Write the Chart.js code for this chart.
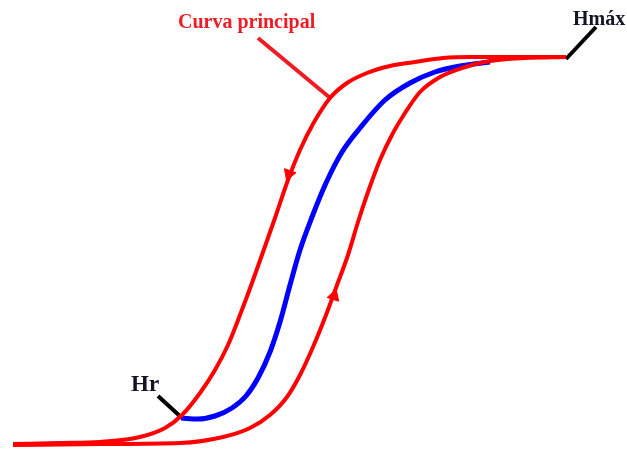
<!DOCTYPE html>
<html lang="es">
<head>
  <meta charset="UTF-8">
  <title>Curva principal</title>
  <script src="https://cdn.jsdelivr.net/npm/chart.js"></script>
  <style>
    html, body { margin: 0; padding: 0; background: #fff; }
    #wrap { width: 627px; height: 449px; }
  </style>
</head>
<body>
  <div id="wrap"><canvas id="loopChart" width="627" height="449"></canvas></div>
  <script>
    // puntos (x, y en unidades de la imagen, y hacia abajo)
    const upperBranch = [
      [13, 444], [60, 443], [100, 442], [140, 437], [165, 428], [182, 415],
      [200, 393], [215, 370], [228, 345], [240, 315], [252, 283], [263, 252],
      [275, 218], [288, 180], [300, 150], [313, 124], [330, 98], [347, 83],
      [367, 73], [390, 66], [415, 62], [443, 58], [470, 57], [566, 57]
    ];
    const lowerBranch = [
      [13, 445], [100, 444], [180, 443], [223, 437], [250, 428], [270, 415],
      [287, 397], [300, 375], [313, 347], [326, 315], [337, 285], [348, 255],
      [358, 222], [368, 192], [380, 160], [393, 133], [405, 113], [420, 92],
      [440, 77], [462, 68], [490, 61], [525, 58], [566, 57]
    ];
    const innerCurve = [
      [181, 418], [198, 419], [215, 416], [232, 408], [246, 396], [258, 378],
      [270, 352], [280, 322], [290, 285], [300, 250], [312, 217], [326, 183],
      [342, 152], [360, 128], [385, 100], [410, 83], [435, 72], [460, 66], [490, 62]
    ];
    // flechas: [x, y, giro en grados]
    const arrowHeads = [
      [289, 174, 200],
      [334, 296, 18]
    ];
    const leaderPrincipal = [[258, 38], [329, 97]];
    const leaderHmax = [[596, 27], [566, 59]];
    const leaderHr = [[158, 396], [182, 418]];
    const labels = [
      { text: 'Curva principal', x: 178, y: 28, color: '#ee1c24', size: 20 },
      { text: 'Hmáx', x: 573, y: 25, color: '#141428', size: 20 },
      { text: 'Hr', x: 131, y: 391, color: '#141428', size: 23 }
    ];

    const toXY = arr => arr.map(p => ({ x: p[0], y: p[1] }));

    const textPlugin = {
      id: 'textLabels',
      afterDatasetsDraw(chart) {
        const ctx = chart.ctx;
        const xs = chart.scales.x, ys = chart.scales.y;
        ctx.save();
        ctx.textBaseline = 'alphabetic';
        ctx.textAlign = 'left';
        labels.forEach(l => {
          ctx.font = `bold ${l.size}px "Liberation Serif", "Times New Roman", serif`;
          ctx.fillStyle = l.color;
          ctx.fillText(l.text, xs.getPixelForValue(l.x), ys.getPixelForValue(l.y));
        });
        ctx.restore();
      }
    };

    const lineSet = (data, color, width) => ({
      data: toXY(data),
      showLine: true,
      borderColor: color,
      borderWidth: width,
      pointRadius: 0,
      cubicInterpolationMode: 'monotone',
      fill: false
    });

    new Chart(document.getElementById('loopChart'), {
      type: 'scatter',
      data: {
        datasets: [
          lineSet(upperBranch, '#ff0000', 4),
          lineSet(lowerBranch, '#ff0000', 4),
          lineSet(innerCurve, '#0000ff', 5),
          Object.assign(lineSet(leaderPrincipal, '#ee1c24', 4), { cubicInterpolationMode: 'default', tension: 0 }),
          Object.assign(lineSet(leaderHmax, '#000000', 4), { cubicInterpolationMode: 'default', tension: 0 }),
          Object.assign(lineSet(leaderHr, '#000000', 4), { cubicInterpolationMode: 'default', tension: 0 }),
          {
            data: toXY(arrowHeads),
            pointStyle: 'triangle',
            pointRadius: 7,
            rotation: arrowHeads.map(a => a[2]),
            backgroundColor: '#ff0000',
            borderColor: '#ff0000',
            borderWidth: 1,
            showLine: false
          }
        ]
      },
      options: {
        responsive: false,
        animation: false,
        layout: { padding: 0, autoPadding: false },
        plugins: { legend: { display: false }, tooltip: { enabled: false } },
        scales: {
          x: { type: 'linear', min: 0, max: 627, display: false },
          y: { type: 'linear', min: 0, max: 449, reverse: true, display: false }
        }
      },
      plugins: [textPlugin]
    });
  </script>
</body>
</html>
